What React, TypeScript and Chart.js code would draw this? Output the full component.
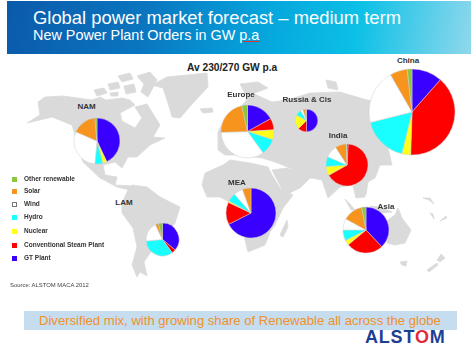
import React, { useEffect, useRef } from "react";
import Chart from "chart.js/auto";

const seriesNames = ["GT Plant", "Conventional Steam Plant", "Nuclear", "Hydro", "Wind", "Solar", "Other renewable"];
const seriesColors = ["#3a00ff", "#ff0000", "#ffff19", "#19ffff", "#ffffff", "#f7941d", "#8cc63f"];
const legendOrder = [6, 5, 4, 3, 2, 1, 0];

const nam = [43, 0, 3, 5.5, 30, 17, 1.5];
const lam = [36, 4, 0, 33.5, 19.5, 3, 4];
const europe = [17, 7, 6, 10, 34.5, 22, 3.5];
const russia = [50, 12.5, 20.5, 8.5, 3.5, 3.5, 1.5];
const china = [11.5, 39, 3.3, 17.3, 20.6, 6.5, 1.8];
const india = [1, 65.5, 7, 7.5, 9.5, 8.5, 0.5];
const mea = [67.5, 14.5, 1, 5.5, 6, 5.5, 0];
const asia = [38, 26, 3.5, 7.5, 8, 14, 3];

type PieSpec = { values: number[]; cx: number; cy: number; r: number };
const pies: PieSpec[] = [
  { values: nam, cx: 97, cy: 140.5, r: 23 },
  { values: lam, cx: 162, cy: 239, r: 16.5 },
  { values: europe, cx: 247.7, cy: 131, r: 26.5 },
  { values: russia, cx: 306.3, cy: 120.7, r: 11.3 },
  { values: china, cx: 412, cy: 111.7, r: 43 },
  { values: india, cx: 346.7, cy: 165.3, r: 21 },
  { values: mea, cx: 251, cy: 213, r: 25 },
  { values: asia, cx: 365.7, cy: 230, r: 23 },
];

const regionLabels: [string, number, number][] = [
  ["NAM", 86.5, 106.5],
  ["LAM", 124, 203],
  ["Europe", 241, 95],
  ["Russia & Cis", 307, 100],
  ["China", 408, 60.5],
  ["India", 338, 135.5],
  ["MEA", 237, 182.5],
  ["Asia", 386, 206.5],
];
const legendY = [179, 191, 204, 217, 231, 245, 258];

const land: string[] = [
  "27,123 40,115 38,102 45,97 63,96 92,100 100,97 106,100 122,98 130,100 135,105 120,113 122,121 135,128 142,118 135,107 147,104 160,125 153,137 165,138 150,145 137,157 128,157 122,168 115,162 103,165 105,175 117,177 115,185 132,186 130,190 117,187 100,178 83,162 72,125 52,117",
  "94,90 104,88 107,93 97,96",
  "108,84 118,82 120,88 110,90",
  "118,76 130,73 133,79 122,82",
  "124,86 134,84 136,92 126,94",
  "137,76 150,72 157,80 148,97 141,92 144,84",
  "110,93 118,92 118,96 111,96",
  "152,85 167,77 207,73 208,87 193,103 180,118 172,117 168,103 163,88",
  "200,109 212,108 213,112 203,113",
  "132,185 147,187 160,197 180,207 175,223 163,240 150,253 144,262 147,276 140,272 137,277 132,265 137,247 133,228 122,213 122,203 128,190",
  "240,84 258,82 268,88 255,93 246,95",
  "218,132 225,118 240,108 252,93 272,102 287,100 310,93 340,92 367,100 400,105 425,125 415,150 388,148 392,165 380,165 375,178 368,182 366,195 356,195 354,180 350,185 340,187 328,198 322,180 312,178 298,180 290,168 275,162 262,158 240,155 225,155 218,150",
  "326,80 336,82 338,90 328,88",
  "202,185 205,173 223,165 230,160 250,163 268,167 272,175 280,188 293,195 283,208 275,225 270,232 265,245 248,252 243,232 235,205 220,197 207,197",
  "272,170 287,168 310,178 300,188 285,195",
  "280,235 287,220 288,227 283,237",
  "345,199 350,204 355,210 351,210",
  "353,186 364,185 365,197 356,198",
  "388,220 395,215 398,208 402,218 411,230 405,243 395,245 387,243",
  "370,206 380,207 392,212 382,213",
  "400,262 407,261 406,266 402,265",
  "427,270 437,263 438,265 429,272",
  "437,260 441,254 445,258 440,262",
  "423,198 430,198 434,204 429,200",
  "430,213 433,214 434,219",
  "440,221 446,216 447,218",
];

function Pie({ spec }: { spec: PieSpec }) {
  const ref = useRef<HTMLCanvasElement>(null);
  const size = Math.ceil(spec.r * 2) + 4;
  useEffect(() => {
    const chart = new Chart(ref.current!, {
      type: "pie",
      data: {
        labels: seriesNames,
        datasets: [{ data: spec.values, backgroundColor: seriesColors, borderColor: "#cfcfcf", borderWidth: 0.5 }],
      },
      options: {
        animation: false,
        responsive: false,
        devicePixelRatio: 1,
        radius: spec.r,
        layout: { padding: 0 },
        plugins: { legend: { display: false }, tooltip: { enabled: false } },
      } as any,
    });
    return () => chart.destroy();
  }, []);
  return (
    <canvas
      ref={ref}
      width={size}
      height={size}
      style={{ position: "absolute", left: spec.cx - size / 2, top: spec.cy - size / 2, width: size, height: size }}
    />
  );
}

const sans = "'Liberation Sans', Arial, sans-serif";
const abs = (left: number, top: number, extra: React.CSSProperties = {}): React.CSSProperties => ({
  position: "absolute",
  left,
  top,
  whiteSpace: "nowrap",
  lineHeight: 1,
  ...extra,
});

export default function App() {
  return (
    <div
      style={{
        position: "absolute",
        left: 0,
        top: 0,
        width: 471,
        height: 348,
        overflow: "hidden",
        background: "#fff",
        fontFamily: sans,
        filter: "blur(0.45px)",
      }}
    >
      <div
        style={{
          position: "absolute",
          left: 7,
          top: 1,
          width: 464,
          height: 53,
          background: "linear-gradient(100deg,#0b5aaa 0%,#0a76c0 30%,#05a5dc 55%,#0cc0e6 75%,#8fd8ec 100%)",
        }}
      />
      <div style={abs(33, 9, { color: "#fff", fontSize: 18.4 })}>Global power market forecast – medium term</div>
      <div style={abs(33, 28, { color: "#fff", fontSize: 14.4 })}>
        New Power Plant Orders in GW <span style={{ textDecoration: "underline", textDecorationColor: "#d33" }}>p.a</span>
      </div>

      <svg width={471} height={348} style={{ position: "absolute", left: 0, top: 0 }}>
        {land.map((p, i) => (
          <polygon key={i} points={p} fill="#dadada" stroke="#dadada" strokeWidth={0.8} strokeLinejoin="round" />
        ))}
      </svg>

      {pies.map((p, i) => (
        <Pie key={i} spec={p} />
      ))}

      <div style={abs(187, 63, { fontWeight: 700, fontSize: 10.2, color: "#222" })}>Av 230/270 GW p.a</div>
      {regionLabels.map(([t, x, y]) => (
        <div key={t} style={abs(x, y, { fontWeight: 700, fontSize: 8, color: "#333", transform: "translate(-50%,-50%)" })}>
          {t}
        </div>
      ))}

      {legendOrder.map((s, i) => (
        <React.Fragment key={s}>
          <div
            style={{
              position: "absolute",
              left: 12,
              top: legendY[i] - 2.5,
              width: 5,
              height: 5,
              boxSizing: "border-box",
              background: seriesColors[s],
              border: s === 4 ? "0.7px solid #777" : "none",
            }}
          />
          <div style={abs(24, legendY[i] - 3, { fontSize: 6.5, fontWeight: 700, color: "#333" })}>{seriesNames[s]}</div>
        </React.Fragment>
      ))}

      <div style={abs(10, 283, { fontSize: 5.9, color: "#444" })}>Source: ALSTOM MACA 2012</div>
      <div style={{ position: "absolute", left: 24, top: 311, width: 433, height: 19, background: "#c6dcef" }} />
      <div style={abs(39, 314, { fontSize: 13.1, color: "#f0912b" })}>Diversified mix, with growing share of Renewable all across the globe</div>
      <div style={abs(365, 327.5, { fontSize: 18, fontWeight: 700, color: "#1c3f94", letterSpacing: 0.8 })}>
        ALST<span style={{ color: "#e22a3c" }}>O</span>M
      </div>
    </div>
  );
}
